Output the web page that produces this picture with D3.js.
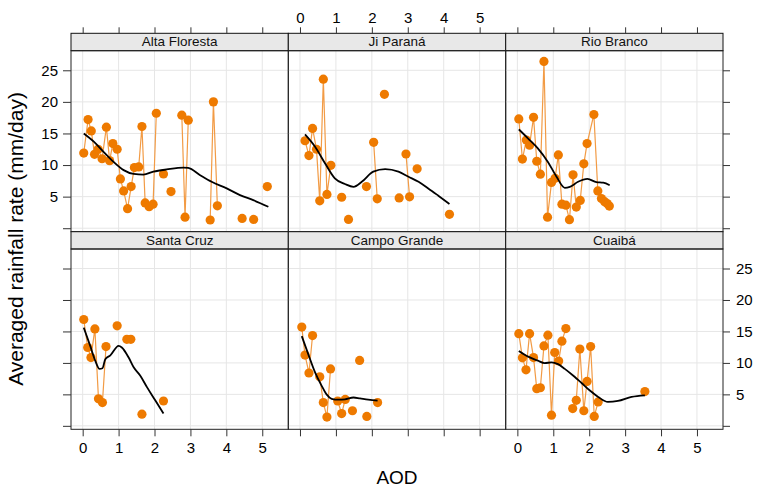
<!DOCTYPE html>
<html><head><meta charset="utf-8">
<script src="https://cdn.jsdelivr.net/npm/d3@7"></script>
<style>body{margin:0;background:#fff}svg{display:block}</style>
</head><body>
<svg id="c" width="758" height="487"></svg>
<script>
// ---- data ----
const sites = ["Alta Floresta","Ji Paraná","Rio Branco","Santa Cruz","Campo Grande","Cuaibá"];
const xTicks = [0,1,2,3,4,5];
const yTicks = [0,5,10,15,20,25];
const yTickLabels = ["","5","10","15","20","25"];
const xTitle = "AOD";
const yTitle = "Averaged rainfall rate (mm/day)";

// observed (null = empty AOD bin, breaks the line)
const altaX = [0.03,0.15,0.24,0.33,0.43,0.54,0.66,0.75,0.84,0.96,1.05,1.14,1.25,1.35,1.44,1.56,1.65,1.74,1.85,1.96,2.05,2.15,2.25,2.35,2.46,2.55,2.76,2.85,2.94,3.05,3.55,3.64,3.75,3.85,4.44,4.55,4.76,4.85,5.14];
const altaY = [11.9,17.2,15.4,11.7,12.5,11.0,16.0,10.7,13.4,12.5,7.8,5.9,3.1,6.6,9.6,9.7,16.1,4.0,3.4,3.8,18.2,null,8.6,null,5.8,null,17.9,1.75,17.1,null,1.3,20.0,3.55,null,1.55,null,1.4,null,6.6];
const jiX = [0.14,0.25,0.35,0.46,0.55,0.65,0.75,0.86,0.95,1.16,1.25,1.35,1.45,1.85,1.95,2.05,2.15,2.25,2.35,2.45,2.76,2.85,2.95,3.05,3.15,3.26,3.35,4.16];
const jiY = [13.85,11.5,15.8,12.5,4.33,23.6,5.35,9.95,null,4.9,null,1.4,null,6.6,null,13.6,4.65,null,21.2,null,4.8,null,11.75,4.97,null,9.4,null,2.2];
const rioX = [0.04,0.14,0.25,0.34,0.45,0.54,0.64,0.74,0.84,0.95,1.05,1.14,1.24,1.35,1.45,1.55,1.64,1.75,1.85,1.94,2.13,2.24,2.34,2.43,2.50,2.56];
const rioY = [17.3,10.95,13.95,13.15,17.55,10.6,8.55,26.4,1.75,7.25,7.9,11.6,3.8,3.65,1.35,8.45,3.35,4.4,10.2,13.4,18.0,5.9,4.7,4.2,3.9,3.5];
const santaX = [0.03,0.14,0.23,0.34,0.44,0.55,0.65,0.75,0.96,1.05,1.23,1.34,1.45,1.65,1.75,2.25];
const santaY = [16.9,12.45,10.85,15.4,4.3,3.7,12.6,null,15.9,null,13.75,13.75,null,1.85,null,3.95];
const campoX = [0.05,0.14,0.25,0.35,0.45,0.55,0.65,0.75,0.85,0.95,1.05,1.16,1.26,1.35,1.46,1.55,1.66,1.75,1.86,1.95,2.16];
const campoY = [15.7,11.25,8.4,14.35,null,7.8,3.7,1.4,9.05,null,3.95,1.95,4.2,null,2.4,null,10.4,null,1.5,null,3.7];
const cuaX = [0.04,0.14,0.24,0.34,0.45,0.54,0.64,0.74,0.85,0.95,1.04,1.15,1.24,1.35,1.45,1.54,1.64,1.74,1.85,1.94,2.04,2.14,2.25,2.35,3.55];
const cuaY = [14.65,10.8,8.9,14.65,10.85,5.9,6.05,12.7,14.4,1.7,11.65,10.3,13.45,15.45,null,2.75,4.05,12.2,2.4,7.05,12.6,1.5,3.8,null,5.45];

// smooth (loess) curves
const altaSX = [0.03,0.31,0.58,0.86,1.14,1.42,1.69,1.97,2.34,2.81,2.94,3.27,3.59,4.01,4.38,4.75,5.17];
const altaSY = [15.0,13.7,12.1,10.5,9.2,8.6,8.5,8.95,9.3,9.6,9.55,8.4,7.35,6.3,5.25,4.45,3.4];
const jiSX = [0.14,0.42,0.70,0.97,1.25,1.49,1.72,2.04,2.37,2.74,3.02,3.30,3.57,3.85,4.16];
const jiSY = [14.85,12.9,10.25,7.9,7.0,6.55,7.35,8.95,9.35,8.95,8.15,7.35,6.3,5.15,3.85];
const rioSX = [0.04,0.30,0.57,0.85,1.09,1.32,1.46,1.69,1.95,2.20,2.39,2.57];
const rioSY = [15.65,14.2,12.65,10.5,8.15,6.4,6.55,7.35,7.8,7.3,7.2,6.8];
const santaSX = [0.03,0.21,0.35,0.47,0.55,0.63,0.77,1.0,1.09,1.28,1.42,1.60,1.79,2.02,2.25];
const santaSY = [15.6,12.7,10.35,9.05,9.15,10.6,11.2,12.7,12.45,10.85,9.3,8.0,6.15,4.05,1.95];
const campoSX = [0.05,0.23,0.42,0.60,0.74,0.88,1.07,1.25,1.49,1.67,1.90,2.16];
const campoSY = [14.25,11.4,8.5,6.4,5.0,4.3,4.15,4.2,4.5,4.35,4.15,4.0];
const cuaSX = [0.04,0.30,0.57,0.76,0.95,1.13,1.32,1.55,1.78,2.01,2.25,2.52,2.80,3.18,3.55];
const cuaSY = [11.9,11.0,10.35,9.95,10.1,9.8,9.05,8.0,6.85,5.65,4.6,3.8,3.95,4.6,4.85];

const obsX = [altaX, jiX, rioX, santaX, campoX, cuaX];
const obsY = [altaY, jiY, rioY, santaY, campoY, cuaY];
const smX = [altaSX, jiSX, rioSX, santaSX, campoSX, cuaSX];
const smY = [altaSY, jiSY, rioSY, santaSY, campoSY, cuaSY];

// ---- layout ----
const svg = d3.select("#c");
const font = "'Liberation Sans', Arial, Helvetica, sans-serif";
const colX = [71, 288.3, 505.7, 723];
const rows = [{strip:33.3, top:50.7, bottom:231.7},{strip:231.7, top:249, bottom:429.3}];
const ptCol = "#EE7A00", lineCol = "#F29B45";

sites.forEach((name, i) => {
  const r = Math.floor(i/3), c = i%3;
  const x0 = colX[c], x1 = colX[c+1];
  const R = rows[r];
  const x = d3.scaleLinear().domain([-0.325, 5.725]).range([x0, x1]);
  const y = d3.scaleLinear().domain([-0.55, 28.1]).range([R.bottom, R.top]);
  const g = svg.append("g");

  // grid
  g.selectAll(".gx").data(xTicks).join("line")
    .attr("x1", d=>x(d)).attr("x2", d=>x(d)).attr("y1", R.top).attr("y2", R.bottom)
    .attr("stroke", "#e6e6e6").attr("stroke-width", 1);
  g.selectAll(".gy").data(yTicks).join("line")
    .attr("x1", x0).attr("x2", x1).attr("y1", d=>y(d)).attr("y2", d=>y(d))
    .attr("stroke", "#e6e6e6").attr("stroke-width", 1);

  const pts = obsX[i].map((v,k)=>({x:v, y:obsY[i][k]}));
  const line = d3.line().defined(d=>d.y!==null).x(d=>x(d.x)).y(d=>y(d.y));
  g.append("path").datum(pts).attr("d", line).attr("fill","none")
    .attr("stroke", lineCol).attr("stroke-width", 1.2);
  g.selectAll("circle").data(pts.filter(d=>d.y!==null)).join("circle")
    .attr("cx", d=>x(d.x)).attr("cy", d=>y(d.y)).attr("r", 4.6).attr("fill", ptCol);

  const sm = smX[i].map((v,k)=>({x:v, y:smY[i][k]}));
  g.append("path").datum(sm)
    .attr("d", d3.line().curve(d3.curveMonotoneX).x(d=>x(d.x)).y(d=>y(d.y)))
    .attr("fill","none").attr("stroke","#000").attr("stroke-width",1.8);

  // strip
  g.append("rect").attr("x", x0).attr("y", R.strip).attr("width", x1-x0).attr("height", R.top-R.strip)
    .attr("fill", "#e8e8e8").attr("stroke", "#111").attr("stroke-width", 1);
  g.append("text").attr("x", (x0+x1)/2).attr("y", R.top-4.5).attr("text-anchor","middle")
    .attr("font-family", font).attr("font-size", 13.5).attr("fill","#111").text(name);

  // panel border
  g.append("rect").attr("x", x0).attr("y", R.top).attr("width", x1-x0).attr("height", R.bottom-R.top)
    .attr("fill","none").attr("stroke","#222").attr("stroke-width",1);

  const styleAxis = (sel) => {
    sel.select(".domain").remove();
    sel.selectAll(".tick line").attr("stroke","#333");
    sel.selectAll(".tick text").attr("font-family", font).attr("font-size", 15).attr("fill","#000");
  };
  // top axis (top row)
  if (r === 0) {
    const ax = d3.axisTop(x).tickValues(xTicks).tickSize(6).tickPadding(4)
      .tickFormat(c===1 ? d3.format("d") : ()=>"");
    g.append("g").attr("transform", `translate(0,${R.strip})`).call(ax).call(styleAxis);
  } else {
    const ax = d3.axisBottom(x).tickValues(xTicks).tickSize(7).tickPadding(6)
      .tickFormat(c!==1 ? d3.format("d") : ()=>"");
    g.append("g").attr("transform", `translate(0,${R.bottom})`).call(ax).call(styleAxis);
  }
  if (c === 0) {
    const ax = d3.axisLeft(y).tickValues(yTicks).tickSize(8).tickPadding(5)
      .tickFormat((d,k)=> r===0 ? yTickLabels[k] : "");
    g.append("g").attr("transform", `translate(${x0},0)`).call(ax).call(styleAxis);
  }
  if (c === 2) {
    const ax = d3.axisRight(y).tickValues(yTicks).tickSize(7).tickPadding(6)
      .tickFormat((d,k)=> r===1 ? yTickLabels[k] : "");
    g.append("g").attr("transform", `translate(${x1},0)`).call(ax).call(styleAxis);
  }
});

svg.append("text").attr("x", (colX[0]+colX[3])/2).attr("y", 484).attr("text-anchor","middle")
  .attr("font-family", font).attr("font-size", 19).attr("fill","#000").text(xTitle);
svg.append("text").attr("transform", "translate(23,239) rotate(-90)").attr("text-anchor","middle")
  .attr("font-family", font).attr("font-size", 21).attr("fill","#000").text(yTitle);
</script>
</body></html>
